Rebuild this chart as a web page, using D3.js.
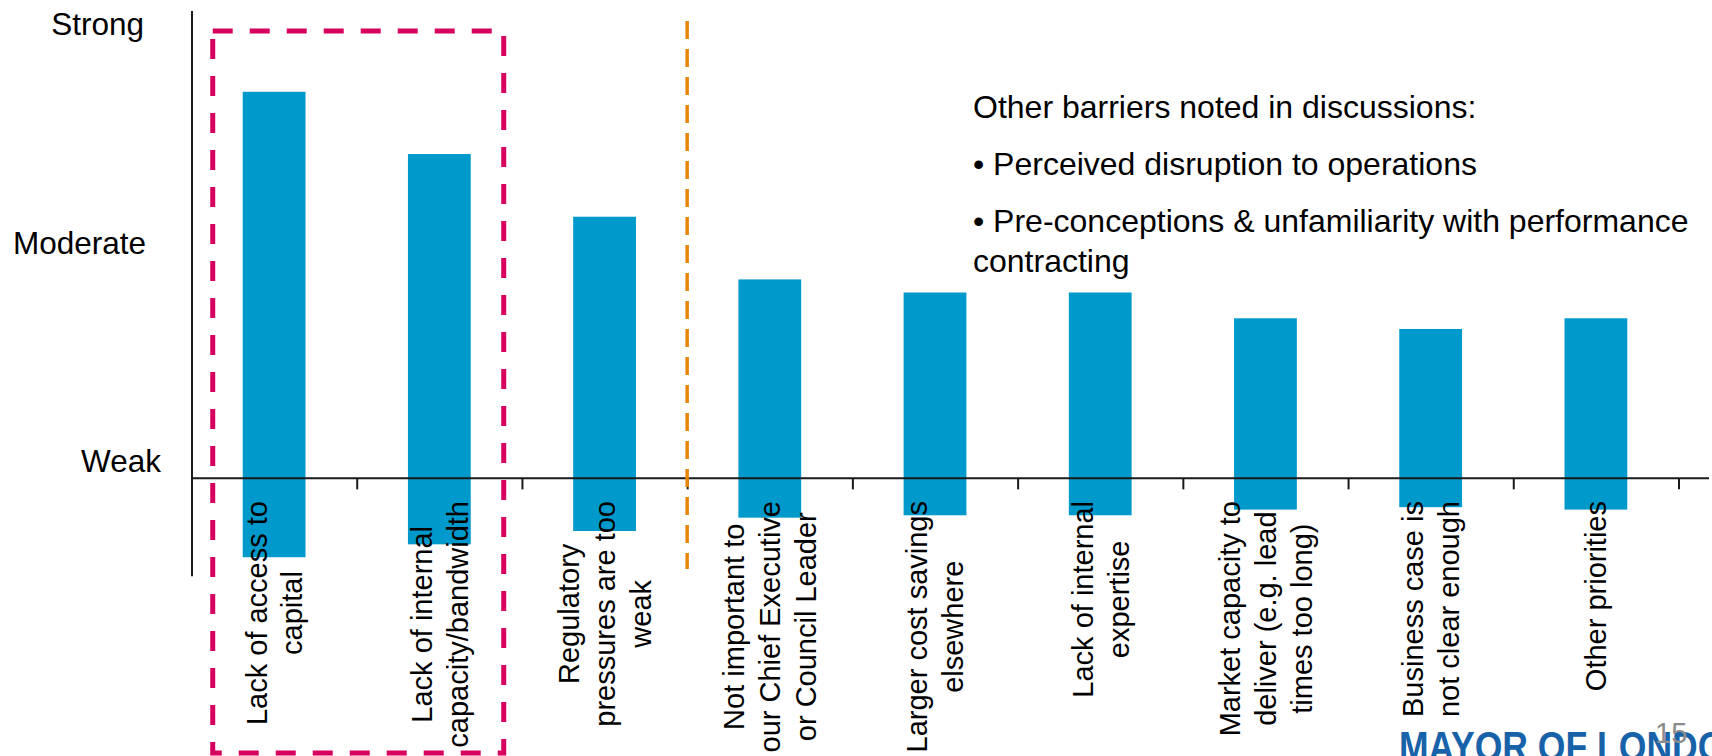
<!DOCTYPE html>
<html><head><meta charset="utf-8">
<script src="https://cdn.jsdelivr.net/npm/d3@7/dist/d3.min.js"></script>
<style>
html,body{margin:0;padding:0;background:#fff;}
svg{display:block;}
text{font-family:"Liberation Sans", Arial, Helvetica, sans-serif;}
</style></head><body>
<svg id="chart" width="1712" height="756"></svg>
<script>
// ---- data ----
const categories = [
  "Lack of access to|capital",
  "Lack of internal|capacity/bandwidth",
  "Regulatory|pressures are too|weak",
  "Not important to|our Chief Executive|or Council Leader",
  "Larger cost savings|elsewhere",
  "Lack of internal|expertise",
  "Market capacity to|deliver (e.g. lead|times too long)",
  "Business case is|not clear enough",
  "Other priorities"
];
// barrier strength (1 = Weak, 2 = Moderate, 3 = Strong)
const strength = [2.69, 2.405, 2.118, 1.831, 1.771, 1.771, 1.653, 1.604, 1.653];
// lower end of each bar (drawn below the category axis)
const lowerEnd = [0.559, 0.618, 0.679, 0.740, 0.751, 0.751, 0.777, 0.788, 0.777];
const levelLabels = ["Weak", "Moderate", "Strong"];
const levelValues = [1, 2, 3];
const axisValue = 0.92;
const highlighted = [0, 1];
const dividerAfter = 3;
const notes = [
  ["Other barriers noted in discussions:"],
  ["\u2022 Perceived disruption to operations"],
  ["\u2022 Pre-conceptions & unfamiliarity with performance", "contracting"]
];
const pageNumber = "15";
const logoText = "MAYOR OF LONDON";

// ---- drawing ----
const svg = d3.select("#chart");
const n = categories.length;
const BAR = "#0099cc", PINK = "#d6005f", ORANGE = "#e8860a", AXIS = "#1a1a1a";

const x = d3.scaleBand().domain(d3.range(n)).range([191.5, 1678.5])
  .paddingInner(0.62).paddingOuter(0.31);
const boundary = d3.scaleLinear().domain([0, n]).range([191.5, 1678.5]);
const y = d3.scaleLinear().domain([1, 3]).range([460.9, 24.1]);
const bw = x.bandwidth();
const axisY = y(axisValue);

// bars
svg.append("g").selectAll("rect").data(strength).join("rect")
  .attr("x", (d, i) => x(i))
  .attr("y", d => y(d))
  .attr("width", bw)
  .attr("height", (d, i) => y(lowerEnd[i]) - y(d))
  .attr("fill", BAR);

// vertical value axis line
svg.append("line")
  .attr("x1", 192).attr("x2", 192)
  .attr("y1", y(3.06)).attr("y2", y(0.472))
  .attr("stroke", AXIS).attr("stroke-width", 2);

// level labels
const labelX = {Weak: 161, Moderate: 146, Strong: 144};
svg.append("g").selectAll("text").data(levelLabels).join("text")
  .attr("x", d => labelX[d])
  .attr("y", (d, i) => y(levelValues[i]) + 11)
  .attr("text-anchor", "end")
  .attr("font-size", 31.5)
  .attr("fill", "#000")
  .text(d => d);

// category axis line + ticks at band boundaries
svg.append("line")
  .attr("x1", 191).attr("x2", 1709)
  .attr("y1", axisY).attr("y2", axisY)
  .attr("stroke", AXIS).attr("stroke-width", 2);
const xAxis = svg.append("g")
  .attr("transform", `translate(0,${axisY})`)
  .call(d3.axisBottom(boundary).tickValues(d3.range(1, n + 1)).tickSize(11).tickSizeOuter(0).tickFormat(""));
xAxis.select(".domain").remove();
xAxis.selectAll(".tick line").attr("stroke", AXIS).attr("stroke-width", 2);

// category labels (rotated, hanging under the axis)
const FS = 29, LH = 36, CAP = 0.716 * FS, TOP = 501;
categories.forEach((c, i) => {
  const lines = c.split("|");
  const g = svg.append("g")
    .attr("transform", `translate(${x(i) + bw / 2},${TOP}) rotate(-90)`);
  const texts = lines.map(() => g.append("text")
    .attr("font-size", FS).attr("fill", "#000").attr("text-anchor", "middle"));
  texts.forEach((t, j) => t.text(lines[j]));
  const maxLen = d3.max(texts, t => t.node().getComputedTextLength());
  const first = CAP - (CAP + (lines.length - 1) * LH) / 2;
  texts.forEach((t, j) => t.attr("x", -maxLen / 2).attr("y", first + j * LH));
});

// highlight box around the first categories
const bx0 = x(highlighted[0]) - 30, bx1 = x(highlighted[highlighted.length - 1]) + bw + 33;
svg.append("rect")
  .attr("x", bx0).attr("y", 31)
  .attr("width", bx1 - bx0).attr("height", 722)
  .attr("fill", "none").attr("stroke", PINK).attr("stroke-width", 5)
  .attr("stroke-dasharray", "20,17");

// divider line
const dx = boundary(dividerAfter);
svg.append("line")
  .attr("x1", dx).attr("x2", dx).attr("y1", 21).attr("y2", 569)
  .attr("stroke", ORANGE).attr("stroke-width", 3.5)
  .attr("stroke-dasharray", "18,10");

// notes
const notesG = svg.append("g");
let by = 118;
notes.forEach((para, p) => {
  para.forEach((line, j) => {
    notesG.append("text").attr("x", 973).attr("y", by)
      .attr("font-size", 32).attr("fill", "#000").text(line);
    by += (j < para.length - 1) ? 40 : 0;
  });
  by += 57;
});

// logo + page number
svg.append("text").attr("x", 1399).attr("y", 761)
  .attr("font-size", 43).attr("font-weight", "bold")
  .attr("font-family", "'Liberation Sans Narrow','DejaVu Sans Condensed',sans-serif")
  .attr("textLength", 352).attr("lengthAdjust", "spacingAndGlyphs")
  .attr("fill", "#1762a8").text(logoText);
svg.append("text").attr("x", 1655).attr("y", 743)
  .attr("font-size", 29).attr("fill", "#8c8c8c").text(pageNumber);
</script>
</body></html>
